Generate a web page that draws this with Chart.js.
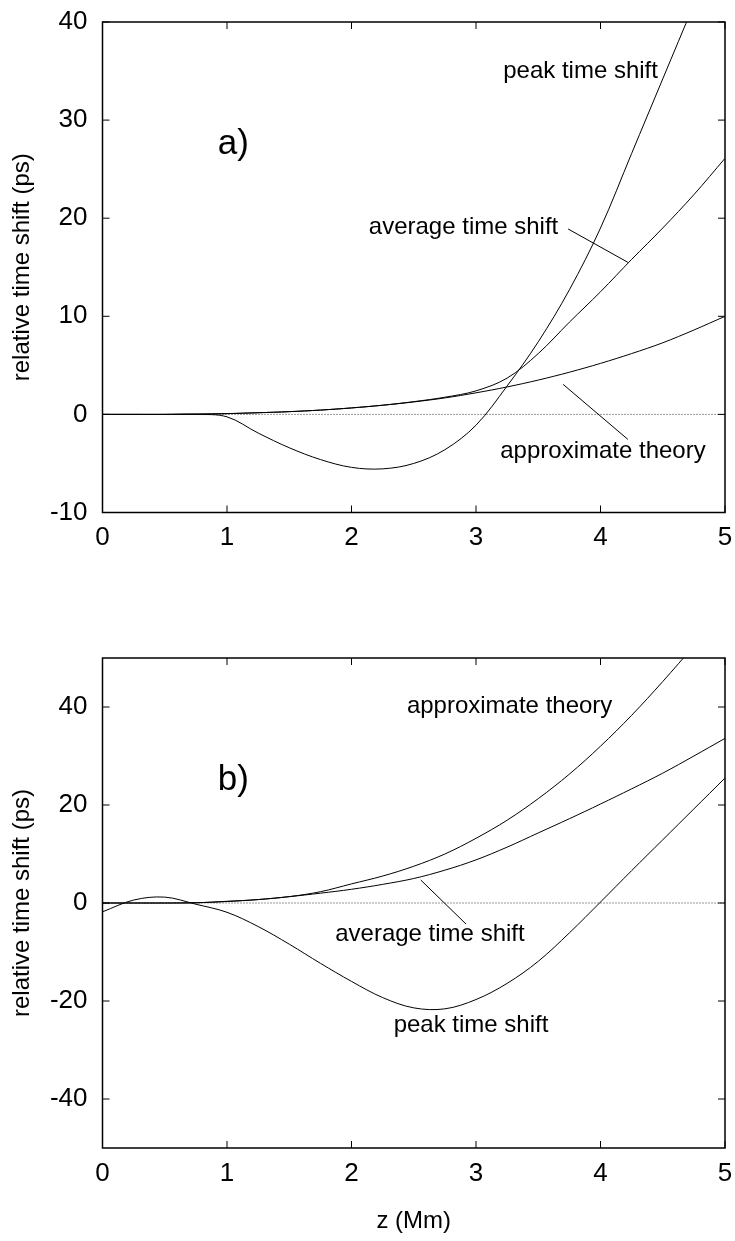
<!DOCTYPE html>
<html>
<head>
<meta charset="utf-8">
<script src="https://cdn.jsdelivr.net/npm/chart.js@4"></script>
<style>
  body { margin: 0; background: #fff; }
  #wrap { position: relative; width: 735px; height: 1241px; }
  canvas { position: absolute; left: 0; }
</style>
</head>
<body>
<div id="wrap">
  <canvas id="chartA" width="735" height="600" style="top:0px"></canvas>
  <canvas id="chartB" width="735" height="641" style="top:600px"></canvas>
</div>
<script>
// z (Mm) sample positions, shared by every curve
const zValues = [0, 0.25, 0.5, 0.75, 1, 1.25, 1.5, 1.75, 2, 2.25, 2.5, 2.75, 3, 3.25, 3.5, 3.75, 4, 4.25, 4.5, 4.75, 5];

const xTicks = [0, 1, 2, 3, 4, 5];
const yTicksA = [-10, 0, 10, 20, 30, 40];
const yTicksB = [-40, -20, 0, 20, 40];

// panel a)
const approxA = [0, 0, 0, 0.03, 0.08, 0.17, 0.28, 0.44, 0.66, 0.93, 1.27, 1.68, 2.2, 2.8, 3.5, 4.3, 5.2, 6.2, 7.3, 8.6, 10.0];
const averageA = [0, 0, 0, 0.03, 0.08, 0.17, 0.28, 0.44, 0.66, 0.94, 1.3, 1.75, 2.4, 3.7, 6.2, 9.4, 12.5, 15.8, 19.0, 22.4, 26.1];
const peakA = [0, 0, 0, 0, -0.25, -1.9, -3.4, -4.6, -5.4, -5.55, -5.0, -3.6, -1.1, 2.9, 7.4, 12.7, 19.0, 26.6, 34.2, 41.8, 49.5];

// panel b)
const approxB = [0, 0, 0, 0.05, 0.3, 0.7, 1.3, 2.3, 3.9, 5.5, 7.5, 10.0, 13.2, 16.9, 21.3, 26.3, 32.0, 38.3, 45.2, 52.5, 60.0];
const averageB = [0, 0, 0, 0.05, 0.35, 0.7, 1.3, 2.0, 2.8, 3.8, 5.0, 6.7, 8.8, 11.4, 14.3, 17.2, 20.2, 23.3, 26.5, 30.0, 33.6];
const peakB = [-1.8, 0.6, 1.2, -0.25, -1.9, -4.8, -8.4, -12.3, -16.0, -19.3, -21.4, -21.6, -19.7, -16.4, -11.9, -6.1, 0.2, 6.6, 12.9, 19.2, 25.5];

const FONT = '"Liberation Sans", Arial, Helvetica, sans-serif';

// labels and leader lines, placed in data coordinates
const notesA = {
  labels: [
    { text: 'a)', x: 1.05, y: 27.5, size: 35 },
    { text: 'peak time shift', x: 3.84, y: 35.0, size: 24 },
    { text: 'average time shift', x: 2.9, y: 19.1, size: 24 },
    { text: 'approximate theory', x: 4.02, y: -3.8, size: 24 }
  ],
  leaders: [
    [3.74, 18.9, 4.22, 15.5],
    [3.70, 3.06, 4.22, -2.55]
  ]
};

const notesB = {
  labels: [
    { text: 'b)', x: 1.05, y: 25.1, size: 35 },
    { text: 'approximate theory', x: 3.27, y: 40.1, size: 24 },
    { text: 'average time shift', x: 2.63, y: -6.4, size: 24 },
    { text: 'peak time shift', x: 2.96, y: -24.9, size: 24 }
  ],
  leaders: [
    [2.556, 4.7, 2.92, -4.3]
  ]
};

const framePlugin = {
  id: 'frame',
  afterDatasetsDraw(chart, args, opts) {
    const { ctx, chartArea: a, scales: { x, y } } = chart;
    ctx.save();
    ctx.strokeStyle = '#000';
    ctx.lineWidth = 1;
    ctx.beginPath();
    // gnuplot style ticks, pointing inward on all four sides
    x.ticks.forEach(t => {
      const px = x.getPixelForValue(t.value);
      ctx.moveTo(px, a.bottom); ctx.lineTo(px, a.bottom - 7);
      ctx.moveTo(px, a.top); ctx.lineTo(px, a.top + 7);
    });
    y.ticks.forEach(t => {
      const py = y.getPixelForValue(t.value);
      ctx.moveTo(a.left, py); ctx.lineTo(a.left + 7, py);
      ctx.moveTo(a.right, py); ctx.lineTo(a.right - 7, py);
    });
    (opts.leaders || []).forEach(l => {
      ctx.moveTo(x.getPixelForValue(l[0]), y.getPixelForValue(l[1]));
      ctx.lineTo(x.getPixelForValue(l[2]), y.getPixelForValue(l[3]));
    });
    ctx.stroke();

    ctx.lineWidth = 1.5;
    ctx.strokeRect(a.left, a.top, a.right - a.left, a.bottom - a.top);

    ctx.fillStyle = '#000';
    ctx.textAlign = 'center';
    ctx.textBaseline = 'middle';
    (opts.labels || []).forEach(lb => {
      ctx.font = lb.size + 'px ' + FONT;
      ctx.fillText(lb.text, x.getPixelForValue(lb.x), y.getPixelForValue(lb.y));
    });
    ctx.restore();
  }
};

function curve(values) {
  return zValues.map((z, i) => ({ x: z, y: values[i] }));
}

function lineSet(values) {
  return {
    data: curve(values),
    borderColor: '#000',
    borderWidth: 1,
    pointRadius: 0,
    fill: false,
    tension: 0.35
  };
}

function makeChart(id, cfg) {
  const zeroLine = {
    data: [{ x: 0, y: 0 }, { x: 5, y: 0 }],
    borderColor: '#333',
    borderWidth: 1,
    borderDash: [1, 2],
    pointRadius: 0,
    fill: false
  };

  return new Chart(document.getElementById(id), {
    type: 'line',
    data: {
      datasets: [lineSet(cfg.approx), lineSet(cfg.average), lineSet(cfg.peak), zeroLine]
    },
    plugins: [framePlugin],
    options: {
      responsive: false,
      animation: false,
      events: [],
      layout: { padding: { top: cfg.padTop, right: 10, left: 0, bottom: 0 } },
      plugins: {
        legend: { display: false },
        tooltip: { enabled: false },
        frame: cfg.notes
      },
      scales: {
        x: {
          type: 'linear',
          min: 0,
          max: 5,
          afterBuildTicks: s => { s.ticks = xTicks.map(v => ({ value: v })); },
          afterFit: s => {
            s.height = cfg.xHeight;
            s.paddingLeft = 0;
            s.paddingRight = 0;
          },
          grid: { display: false, drawTicks: false },
          border: { display: false },
          ticks: { color: '#000', padding: 10, maxRotation: 0, font: { size: 26, family: FONT } },
          title: {
            display: cfg.xTitle !== '',
            text: cfg.xTitle,
            color: '#000',
            font: { size: 24, family: FONT },
            padding: { top: 0, bottom: 5 }
          }
        },
        y: {
          min: cfg.yMin,
          max: cfg.yMax,
          afterBuildTicks: s => { s.ticks = cfg.yTicks.map(v => ({ value: v })); },
          afterFit: s => {
            s.width = 102.5;
            s.paddingTop = 0;
            s.paddingBottom = 0;
          },
          grid: { display: false, drawTicks: false },
          border: { display: false },
          ticks: { color: '#000', padding: 15, font: { size: 26, family: FONT } },
          title: {
            display: true,
            text: 'relative time shift (ps)',
            color: '#000',
            font: { size: 24, family: FONT },
            padding: { top: 8, bottom: 0 }
          }
        }
      }
    }
  });
}

makeChart('chartA', {
  approx: approxA, average: averageA, peak: peakA,
  yMin: -10, yMax: 40, yTicks: yTicksA,
  padTop: 22, xHeight: 87.5, xTitle: '', notes: notesA
});

makeChart('chartB', {
  approx: approxB, average: averageB, peak: peakB,
  yMin: -50, yMax: 50, yTicks: yTicksB,
  padTop: 58, xHeight: 93, xTitle: 'z (Mm)', notes: notesB
});
</script>
</body>
</html>
